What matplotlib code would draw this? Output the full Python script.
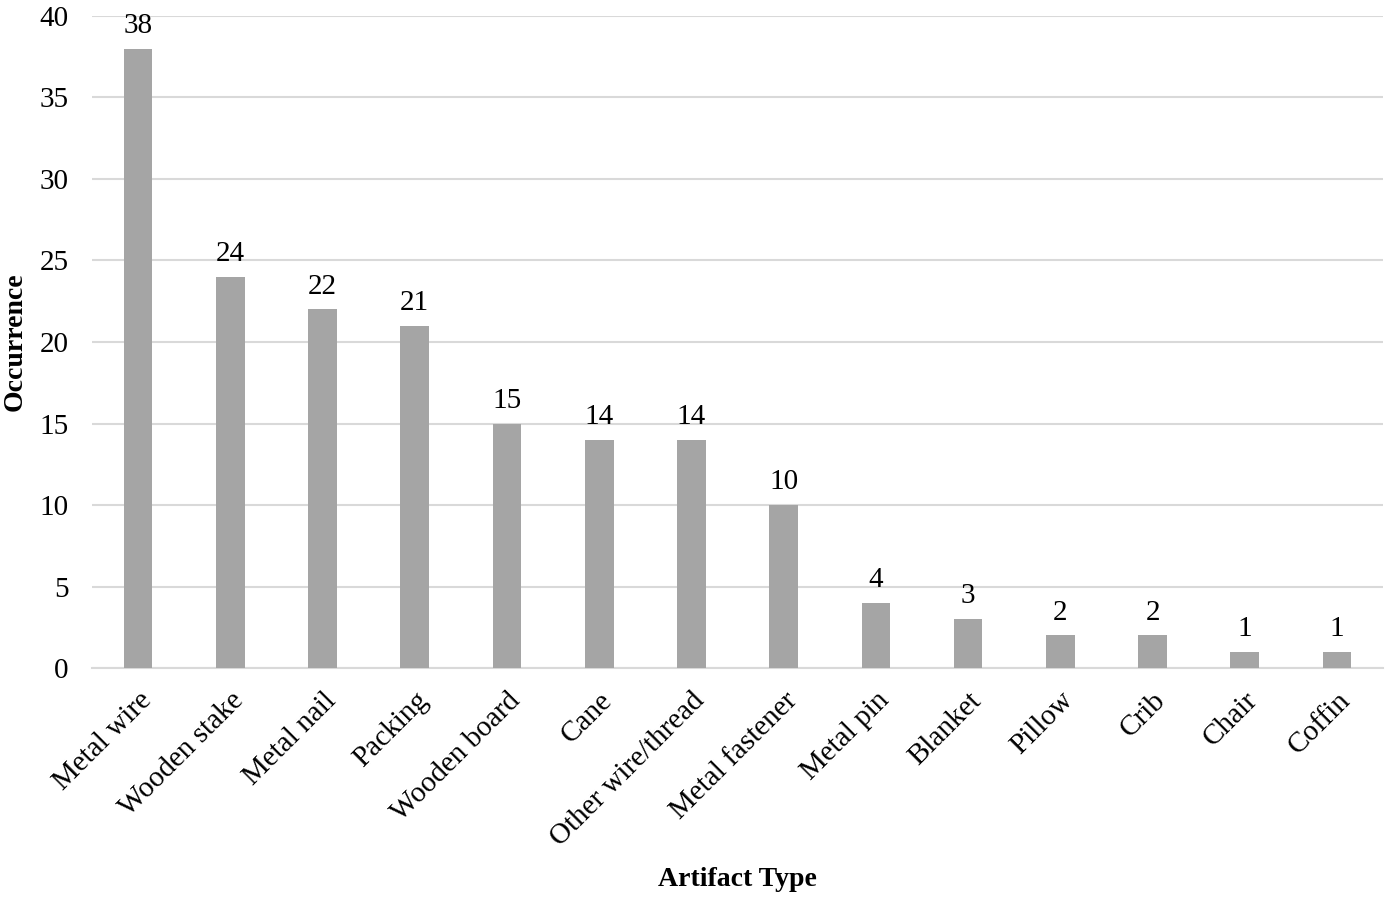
import matplotlib.pyplot as plt

# artifact types and their occurrence counts
artifacts = ['Metal wire', 'Wooden stake', 'Metal nail', 'Packing', 'Wooden board',
             'Cane', 'Other wire/thread', 'Metal fastener', 'Metal pin', 'Blanket',
             'Pillow', 'Crib', 'Chair', 'Coffin']
occurrence = [38, 24, 22, 21, 15, 14, 14, 10, 4, 3, 2, 2, 1, 1]

plt.rcParams['font.family'] = ['Liberation Serif', 'DejaVu Serif']

fig = plt.figure(figsize=(13.9, 8.98), dpi=100)
ax = fig.add_axes([0.0662, 0.2561, 0.9288, 0.7261])

x = range(len(artifacts))
bars = ax.bar(x, occurrence, width=0.31, color='#A5A5A5', zorder=3)
for b, v in zip(bars, occurrence):
    ax.text(b.get_x() + b.get_width() / 2, v + 0.6, str(v),
            ha='center', va='bottom', fontsize=21)

ax.set_xlim(-0.5, len(artifacts) - 0.5)
ax.set_ylim(0, 40)
ax.set_yticks(range(0, 41, 5))
ax.yaxis.grid(True, color='#D9D9D9', linewidth=1.5, zorder=0)
for s in ['top', 'right', 'left']:
    ax.spines[s].set_visible(False)
ax.spines['bottom'].set_color('#D9D9D9')
ax.spines['bottom'].set_linewidth(1.5)
ax.tick_params(axis='both', length=0, labelsize=21)
ax.tick_params(axis='y', pad=17)
ax.tick_params(axis='x', pad=14)
ax.set_xticks(list(x))
ax.set_xticklabels(artifacts, rotation=45, ha='right', rotation_mode='anchor')

ax.set_xlabel('Artifact Type', fontsize=20, fontweight='bold', labelpad=11)
ax.set_ylabel('Occurrence', fontsize=20, fontweight='bold', labelpad=8)

fig.savefig('out.png')
